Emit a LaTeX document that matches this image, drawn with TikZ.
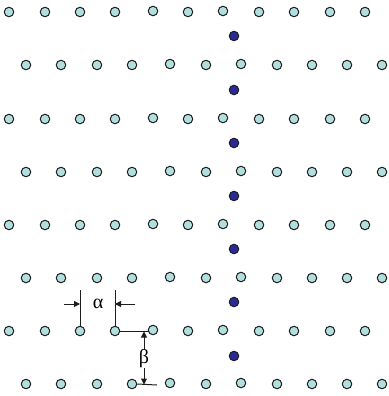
\documentclass[tikz,border=0pt]{standalone}
\usepackage{fontspec}
\newfontfamily\greekserif{Liberation Serif}
\usetikzlibrary{arrows.meta}
\definecolor{lightdot}{RGB}{178,222,222}
\definecolor{darkdot}{RGB}{42,42,150}
\definecolor{inkc}{RGB}{30,30,30}
\begin{document}
\begin{tikzpicture}[x=1pt,y=-1pt,
  lattice/.style={circle,draw=inkc,line width=1pt,fill=lightdot,minimum size=9.5pt,inner sep=0pt},
  defect/.style={circle,draw=inkc,line width=1pt,fill=darkdot,minimum size=9.5pt,inner sep=0pt},
  guide/.style={draw=inkc,line width=1pt},
  dimarrow/.style={draw=inkc,line width=1pt,-{Triangle[length=6pt,width=6pt]}},
  lbl/.style={inner sep=0pt,font=\greekserif\fontsize{20}{22}\selectfont}]
\useasboundingbox (0,0) rectangle (388,396);
% odd rows
\foreach \r/\yy in {1/12,3/119,5/225,7/331}{
  \foreach \c/\xx/\dy in {1/9/0,2/45/0,3/80/0,4/115/0,5/153/-1,6/188/0,7/223/-1,8/259/0,9/294/0,10/330/0,11/365/0}{
    \node[lattice] (d-\r-\c) at (\xx,\yy+\dy) {};
  }
}
% even rows
\foreach \r/\yy in {2/65,4/172,6/278,8/384}{
  \foreach \c/\xx/\dy in {1/26/0,2/61/0,3/97/0,4/132/0,5/170/-1,6/206/0,7/241/-1,8/277/0,9/312/0,10/347/0,11/382/0}{
    \node[lattice] (d-\r-\c) at (\xx,\yy+\dy) {};
  }
}
% defect column
\foreach \k/\yy in {1/36,2/90,3/143,4/196,5/249,6/302,7/356}{
  \node[defect] (x-\k) at (234,\yy) {};
}
% alpha annotation
\coordinate (at1) at (80,290);
\coordinate (at2) at (115,290);
\coordinate (al) at (64,304);
\coordinate (alt) at (80,304);
\coordinate (ar) at (135,304);
\coordinate (art) at (115,304);
\draw[guide] (d-7-3.north) -- (at1);
\draw[guide] (d-7-4.north) -- (at2);
\draw[dimarrow] (al) -- (alt);
\draw[dimarrow] (ar) -- (art);
\node[lbl] (alpha) at (98,304) {α};
% beta annotation
\coordinate (bh1) at (149,331);
\coordinate (bh2) at (157,385);
\draw[guide] (d-7-4.east) -- (bh1);
\draw[guide] (d-8-4.east) -- (bh2);
\node[lbl] (beta) at (144,359) {β};
\coordinate (bu) at (144,331.5);
\coordinate (bd) at (144,384.5);
\draw[dimarrow] (beta.north) -- (bu);
\draw[dimarrow] (beta.south) -- (bd);
\end{tikzpicture}
\end{document}
